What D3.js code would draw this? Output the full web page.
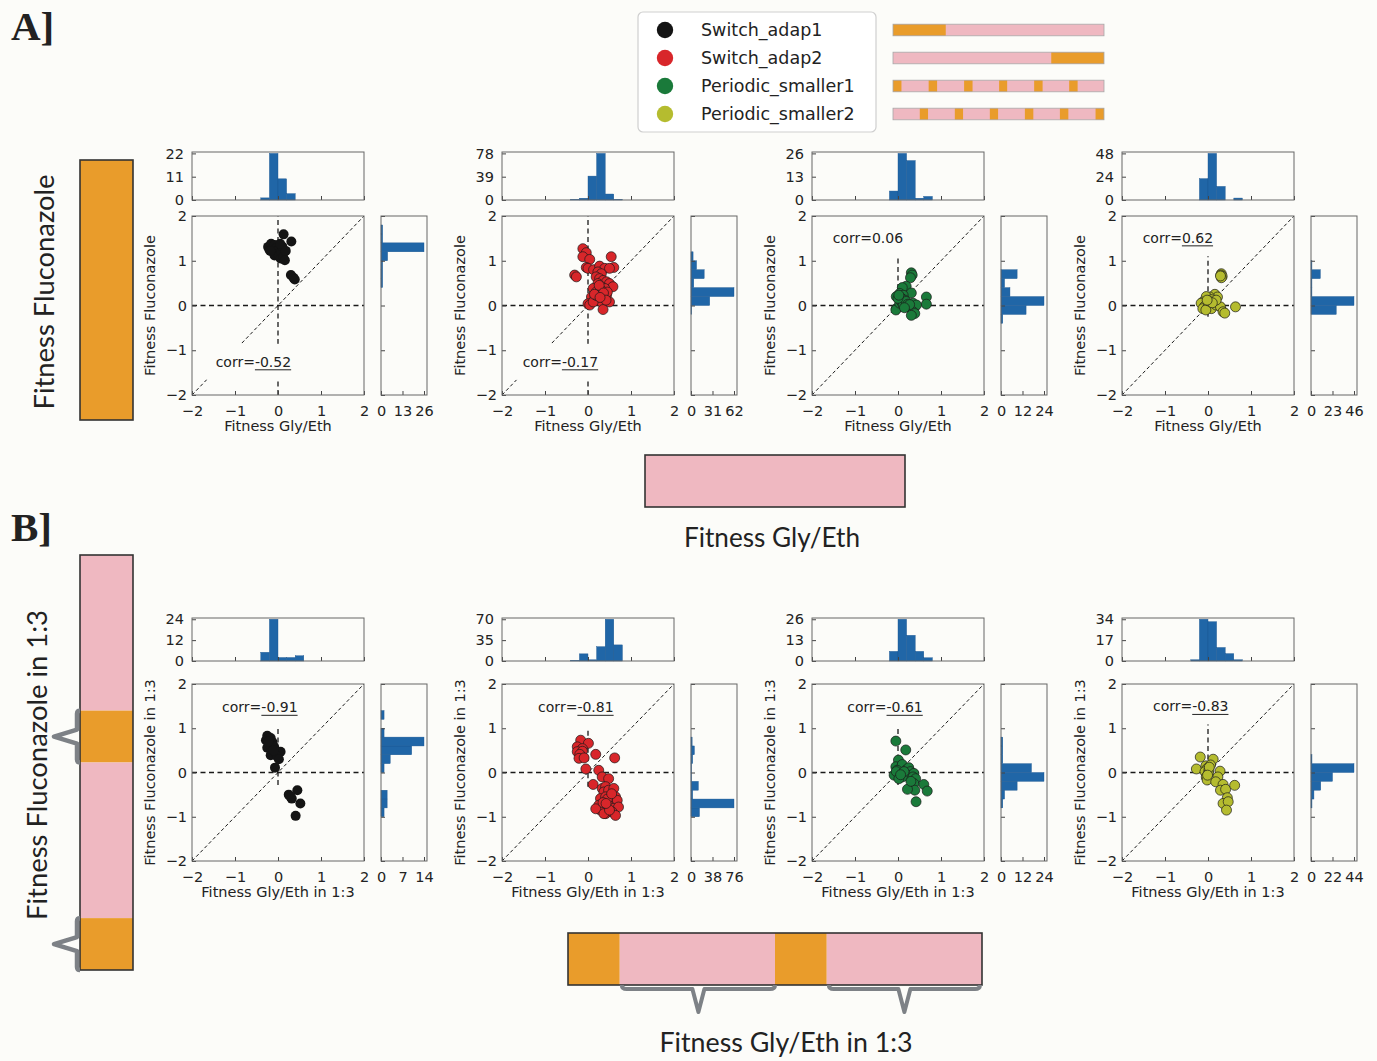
<!DOCTYPE html>
<html>
<head>
<meta charset="utf-8">
<script src="https://cdn.jsdelivr.net/npm/d3@7"></script>
<style>
body { margin: 0; background: #fcfcf9; }
svg text { font-family: "DejaVu Sans", sans-serif; fill: #222; }
</style>
</head>
<body>
<svg id="fig" width="1377" height="1061"></svg>
<script>
// ---- data ----
const groups = ["Switch_adap1", "Switch_adap2", "Periodic_smaller1", "Periodic_smaller2"];
const colors = ["#141414", "#d8262a", "#1a7a3a", "#b5bc2f"];

const corrA = ["-0.52", "-0.17", "0.06", "0.62"];
const corrB = ["-0.91", "-0.81", "-0.61", "-0.83"];
const underA = [true, true, false, true];
const underB = [true, true, true, true];

// scatter points [gly/eth fitness, fluconazole fitness]
const ptsA1 = [[-0.23,1.31],[-0.2,1.25],[-0.16,1.38],[-0.12,1.3],[-0.12,1.23],[-0.08,1.35],[-0.05,1.28],[-0.04,1.18],
  [-0.08,1.12],[0.0,1.22],[0.02,1.12],[0.04,1.28],[0.06,1.05],[0.08,1.2],[0.1,1.32],[0.12,1.08],[0.16,1.01],
  [0.18,1.22],[0.13,1.59],[0.31,1.43],[0.3,0.68],[0.36,0.62],[0.39,0.58],[-0.18,1.22],[0.05,1.38]];
const ptsA2 = [[-0.31,0.68],[-0.27,0.64],[-0.12,1.27],[-0.04,1.18],[-0.12,1.09],[0.04,1.03],[-0.04,0.85],[0,0.83],
  [0.13,0.8],[0.27,0.88],[0.39,0.83],[0.54,1.09],[0.6,0.85],[0.5,0.83],[0.23,0.75],[0.31,0.71],[0.19,0.64],
  [0.27,0.6],[0.35,0.56],[0.43,0.53],[0.5,0.49],[0.58,0.42],[0.23,0.49],[0.31,0.42],[0.39,0.38],[0.12,0.38],
  [0.19,0.3],[0.27,0.27],[0.35,0.19],[0.43,0.23],[0.08,0.19],[0.16,0.16],[0.23,0.12],[0.31,0.08],[0.39,0.16],
  [0,0.04],[0.04,0.01],[0.12,0.08],[0.5,0.08],[0.35,-0.09],[0.3,0.35],[0.45,0.3],[0.2,0.22],[0.26,0.45],
  [0.36,0.28],[0.15,0.25],[0.42,0.12],[0.28,0.18]];
const ptsA3 = [[0.31,0.73],[0.33,0.68],[0.29,0.62],[0.19,0.43],[0.1,0.4],[0.31,0.28],[0.04,0.27],[0.12,0.23],
  [-0.04,0.2],[0.08,0.16],[0.16,0.12],[0.66,0.19],[0.66,0.03],[0.35,0.05],[0.39,-0.03],[0.31,-0.07],[0.43,0.01],
  [-0.04,-0.07],[-0.05,-0.1],[0.19,-0.03],[0.35,-0.14],[0.39,-0.18],[0.31,-0.22],[0.04,0.05],[0.08,0.09],
  [0.12,0.01],[0.19,0.09],[0.23,0.03],[0,0.16],[0.02,0.23],[0.27,0.02],[0.15,-0.05]];
const ptsA4 = [[0.31,0.71],[0.3,0.68],[0.33,0.65],[0.31,0.62],[0.29,0.66],[0.16,0.25],[0.22,0.19],[0.04,0.19],
  [-0.04,0.2],[0.08,0.13],[-0.12,0.08],[-0.16,0.05],[-0.08,-0.02],[-0.12,-0.07],[0.04,0.05],[0.12,0.01],
  [0,-0.03],[0.08,-0.07],[0.19,0.01],[0.29,-0.03],[0.35,-0.14],[0.39,-0.17],[0.64,-0.03],[0.19,0.12],
  [-0.05,-0.1],[0.02,0.1],[0.1,0.06],[-0.02,0.12]];
const ptsB1 = [[-0.25,0.83],[-0.28,0.73],[-0.17,0.78],[-0.13,0.69],[-0.25,0.56],[-0.19,0.62],[-0.09,0.58],
  [-0.15,0.47],[-0.17,0.39],[-0.05,0.43],[0.06,0.47],[-0.02,0.36],[0.02,0.3],[-0.07,0.11],[0.45,-0.4],
  [0.25,-0.5],[0.32,-0.59],[0.52,-0.7],[0.41,-0.98],[0.29,-0.55],[-0.22,0.7],[-0.1,0.5]];
const ptsB2 = [[-0.17,0.73],[0.01,0.66],[-0.25,0.58],[-0.13,0.54],[-0.25,0.47],[-0.13,0.48],[-0.19,0.41],
  [-0.21,0.32],[-0.09,0.33],[0.18,0.41],[0.62,0.33],[-0.05,0.08],[0.25,0.05],[0.33,-0.1],[0.12,-0.27],
  [0.48,-0.14],[0.33,-0.36],[0.41,-0.32],[0.37,-0.44],[0.48,-0.4],[0.6,-0.36],[0.29,-0.59],[0.41,-0.55],
  [0.52,-0.63],[0.64,-0.55],[0.68,-0.63],[0.25,-0.74],[0.37,-0.78],[0.48,-0.74],[0.6,-0.81],[0.71,-0.78],
  [0.29,-0.85],[0.41,-0.93],[0.56,-0.89],[0.64,-0.97],[0.18,-0.82],[0.37,-0.93],[0.45,-0.6],[0.55,-0.48],
  [0.35,-0.68],[0.5,-0.85],[0.42,-0.7]];
const ptsB3 = [[-0.05,0.71],[0.18,0.51],[0.01,0.28],[-0.05,0.13],[0.06,0.09],[0.1,0.18],[-0.02,0.05],[0.02,-0.02],
  [-0.09,-0.06],[0.18,0.05],[0.25,0.11],[0.29,0.02],[0.22,-0.06],[0.1,-0.1],[0.37,-0.02],[0.35,-0.1],
  [0.41,-0.14],[0.37,-0.25],[0.6,-0.27],[0.39,-0.4],[0.22,-0.38],[0.68,-0.42],[0.42,-0.66],[-0.04,0.02],
  [0.02,-0.14],[0.14,0.02],[0.3,-0.2],[0.06,-0.05]];
const ptsB4 = [[-0.18,0.35],[0.12,0.3],[-0.27,0.08],[-0.05,0.15],[-0.02,0.09],[-0.07,0.02],[0.02,0.05],
  [0.01,-0.02],[-0.04,-0.1],[-0.02,-0.17],[0.06,0.17],[0.28,0.03],[0.23,-0.1],[0.18,-0.21],[0.35,-0.27],
  [0.29,-0.4],[0.41,-0.38],[0.62,-0.29],[0.45,-0.57],[0.35,-0.7],[0.47,-0.66],[0.43,-0.85],[0.03,0.12],[-0.01,-0.06]];

// histogram bins of width 0.2: [bin start, count]
const binWidth = 0.2;
const topA1 = [[-0.4,1],[-0.2,22],[0,10],[0.2,3]];
const topA2 = [[-0.4,1],[-0.2,3],[0,40],[0.2,78],[0.4,10],[0.6,1]];
const topA3 = [[-0.2,5],[0,26],[0.2,22],[0.4,1],[0.6,2]];
const topA4 = [[-0.2,22],[0,48],[0.2,14],[0.6,2]];
const topB1 = [[-0.4,5],[-0.2,24],[0,2],[0.2,2],[0.4,3]];
const topB2 = [[-0.4,1],[-0.2,12],[0,2],[0.2,24],[0.4,70],[0.6,27]];
const topB3 = [[-0.2,6],[0,26],[0.2,16],[0.4,6],[0.6,2]];
const topB4 = [[-0.4,1],[-0.2,34],[0,32],[0.2,11],[0.4,6],[0.6,1]];
const sideA1 = [[0.4,1],[0.6,1],[0.8,1],[1.0,4],[1.2,26],[1.4,1],[1.6,1]];
const sideA2 = [[-0.2,1],[0,27],[0.2,62],[0.4,4],[0.6,19],[0.8,8],[1.0,3]];
const sideA3 = [[-0.4,1],[-0.2,14],[0,24],[0.2,5],[0.4,2],[0.6,9]];
const sideA4 = [[-0.2,27],[0,46],[0.2,1],[0.4,1],[0.6,10],[0.8,1]];
const sideB1 = [[-1.0,1],[-0.8,2],[-0.6,2],[0,1],[0.2,3],[0.4,10],[0.6,14],[0.8,1],[1.2,1]];
const sideB2 = [[-1.0,15],[-0.8,76],[-0.6,3],[-0.4,13],[-0.2,1],[0,1],[0.2,3],[0.4,6],[0.6,2]];
const sideB3 = [[-0.8,1],[-0.6,2],[-0.4,9],[-0.2,24],[0,17],[0.2,1],[0.4,1],[0.6,1]];
const sideB4 = [[-0.8,1],[-0.6,3],[-0.4,10],[-0.2,22],[0,44],[0.2,1]];

// histogram axis maxima (tick labels are 0, max/2, max)
const topMaxA = [22, 78, 26, 48];
const sideMaxA = [26, 62, 24, 46];
const topMaxB = [24, 70, 26, 34];
const sideMaxB = [14, 76, 24, 44];

// extent of the dashed x=0 line
const vSpanA = [[-2, 2], [-2, 2], [-0.2, 1.1], [-0.25, 1.1]];
const vSpanB = [[-0.28, 1.0], [-0.32, 1.0], [-0.28, 1.0], [-0.28, 1.1]];

const ticks = [-2, -1, 0, 1, 2];

// ---- layout ----
const bg = "#fcfcf9";
const orange = "#e99c2b", pink = "#efb8c1", braceGray = "#7d8186";
const histBlue = "#2066a7";
const FS = 14.5;
const colLeft = [192, 502, 812, 1122];
const SW = 172, RGAP = 189, RW = 46;
const rows = [
  {histTop: 152, histH: 48, top: 216, h: 179, suffix: ""},
  {histTop: 618, histH: 43, top: 684, h: 177, suffix: " in 1:3"}
];
const corrAtA = [[-1.45, -1.37], [-1.52, -1.37], [-1.52, 1.4], [-1.52, 1.4]];
const corrAtB = [[-1.3, 1.36], [-1.16, 1.36], [-1.18, 1.36], [-1.28, 1.38]];

const svg = d3.select("#fig");
svg.append("rect").attr("width", 1377).attr("height", 1061).attr("fill", bg);

function styleAxis(sel, labels) {
  sel.select(".domain").remove();
  sel.selectAll(".tick line").attr("stroke", "#444").attr("stroke-width", 1);
  sel.selectAll(".tick text").attr("font-size", FS).attr("fill", "#222")
    .style("font-family", "'DejaVu Sans', sans-serif");
  if (!labels) sel.selectAll(".tick text").remove();
}

function drawPanel(p) {
  const g = svg.append("g");
  const x = d3.scaleLinear().domain([-2, 2]).range([p.left, p.left + SW]);
  const y = d3.scaleLinear().domain([-2, 2]).range([p.top + p.h, p.top]);

  // ---- top histogram ----
  const yt = d3.scaleLinear().domain([0, p.topMax * 1.03]).range([p.histTop + p.histH, p.histTop]);
  g.append("g").selectAll("rect").data(p.topBins).join("rect")
    .attr("x", d => x(d[0])).attr("width", d => x(d[0] + binWidth) - x(d[0]))
    .attr("y", d => yt(d[1])).attr("height", d => yt(0) - yt(d[1]))
    .attr("fill", histBlue).attr("stroke", "#1a5590").attr("stroke-width", 0.4);
  g.append("g").attr("transform", `translate(0,${p.histTop + p.histH})`)
    .call(d3.axisBottom(x).tickValues(ticks).tickSize(-4)).call(s => styleAxis(s, false));
  g.append("g").attr("transform", `translate(${p.left},0)`)
    .call(d3.axisLeft(yt).tickValues([0, p.topMax / 2, p.topMax]).tickSize(-4).tickPadding(8).tickFormat(d3.format("d")))
    .call(s => styleAxis(s, true));
  g.append("rect").attr("x", p.left).attr("y", p.histTop).attr("width", SW).attr("height", p.histH)
    .attr("fill", "none").attr("stroke", "#666").attr("stroke-width", 1);

  // ---- side histogram ----
  const rx = p.left + RGAP;
  const xs = d3.scaleLinear().domain([0, p.sideMax * 1.07]).range([rx, rx + RW]);
  g.append("g").selectAll("rect").data(p.sideBins).join("rect")
    .attr("x", rx).attr("width", d => xs(d[1]) - rx)
    .attr("y", d => y(d[0] + binWidth)).attr("height", d => y(d[0]) - y(d[0] + binWidth))
    .attr("fill", histBlue).attr("stroke", "#1a5590").attr("stroke-width", 0.4);
  g.append("g").attr("transform", `translate(0,${p.top + p.h})`)
    .call(d3.axisBottom(xs).tickValues([0, p.sideMax / 2, p.sideMax]).tickSize(-4).tickPadding(11).tickFormat(d3.format("d")))
    .call(s => styleAxis(s, true));
  g.append("g").attr("transform", `translate(${rx},0)`)
    .call(d3.axisLeft(y).tickValues(ticks).tickSize(-4)).call(s => styleAxis(s, false));
  g.append("rect").attr("x", rx).attr("y", p.top).attr("width", RW).attr("height", p.h)
    .attr("fill", "none").attr("stroke", "#666").attr("stroke-width", 1);

  // ---- scatter ----
  g.append("line").attr("x1", x(-2)).attr("x2", x(2)).attr("y1", y(0)).attr("y2", y(0))
    .attr("stroke", "#1a1a1a").attr("stroke-width", 1.3).attr("stroke-dasharray", "5,3.5");
  g.append("line").attr("x1", x(0)).attr("x2", x(0)).attr("y1", y(p.vSpan[0])).attr("y2", y(p.vSpan[1]))
    .attr("stroke", "#1a1a1a").attr("stroke-width", 1.3).attr("stroke-dasharray", "5,3.5");
  g.append("line").attr("x1", x(-2)).attr("x2", x(2)).attr("y1", y(-2)).attr("y2", y(2))
    .attr("stroke", "#1a1a1a").attr("stroke-width", 1).attr("stroke-dasharray", "3.5,2.5");

  g.append("g").selectAll("circle").data(p.pts).join("circle")
    .attr("cx", d => x(d[0])).attr("cy", d => y(d[1])).attr("r", 5)
    .attr("fill", p.color)
    .attr("stroke", p.edge ? "#1a1a1a" : "none").attr("stroke-width", 0.7);

  // corr label with background box
  const cx = x(p.corrAt[0]), cy = y(p.corrAt[1]);
  const cg = g.append("g");
  const t1 = cg.append("text").attr("x", cx).attr("y", cy).attr("font-size", 14).text("corr=");
  const w1 = t1.node().getComputedTextLength();
  const t2 = cg.append("text").attr("x", cx + w1).attr("y", cy).attr("font-size", 14).text(p.corr);
  const w2 = t2.node().getComputedTextLength();
  if (p.under) {
    cg.append("line").attr("x1", cx + w1).attr("x2", cx + w1 + w2).attr("y1", cy + 3).attr("y2", cy + 3)
      .attr("stroke", "#222").attr("stroke-width", 1);
  }
  const bb = cg.node().getBBox();
  cg.insert("rect", ":first-child").attr("x", bb.x - 9).attr("y", bb.y - 10)
    .attr("width", bb.width + 18).attr("height", bb.height + 20).attr("fill", bg);

  g.append("g").attr("transform", `translate(0,${p.top + p.h})`)
    .call(d3.axisBottom(x).tickValues(ticks).tickSize(-4).tickPadding(11).tickFormat(d3.format("d")))
    .call(s => styleAxis(s, true));
  g.append("g").attr("transform", `translate(${p.left},0)`)
    .call(d3.axisLeft(y).tickValues(ticks).tickSize(-4).tickPadding(5).tickFormat(d3.format("d")))
    .call(s => styleAxis(s, true));
  g.append("rect").attr("x", p.left).attr("y", p.top).attr("width", SW).attr("height", p.h)
    .attr("fill", "none").attr("stroke", "#666").attr("stroke-width", 1);

  g.append("text").attr("x", p.left + SW / 2).attr("y", p.top + p.h + 36)
    .attr("text-anchor", "middle").attr("font-size", FS).text("Fitness Gly/Eth" + p.suffix);
  g.append("text").attr("transform", `translate(${p.left - 37},${p.top + p.h / 2}) rotate(-90)`)
    .attr("text-anchor", "middle").attr("font-size", FS).text("Fitness Fluconazole" + p.suffix);
}

const ptsA = [ptsA1, ptsA2, ptsA3, ptsA4], ptsB = [ptsB1, ptsB2, ptsB3, ptsB4];
const topA = [topA1, topA2, topA3, topA4], topB = [topB1, topB2, topB3, topB4];
const sideA = [sideA1, sideA2, sideA3, sideA4], sideB = [sideB1, sideB2, sideB3, sideB4];

for (let i = 0; i < 4; i++) {
  drawPanel(Object.assign({}, rows[0], {left: colLeft[i], pts: ptsA[i], color: colors[i], edge: i > 0,
    topBins: topA[i], sideBins: sideA[i], topMax: topMaxA[i], sideMax: sideMaxA[i],
    vSpan: vSpanA[i], corr: corrA[i], under: underA[i], corrAt: corrAtA[i]}));
  drawPanel(Object.assign({}, rows[1], {left: colLeft[i], pts: ptsB[i], color: colors[i], edge: i > 0,
    topBins: topB[i], sideBins: sideB[i], topMax: topMaxB[i], sideMax: sideMaxB[i],
    vSpan: vSpanB[i], corr: corrB[i], under: underB[i], corrAt: corrAtB[i]}));
}

// ---- legend ----
const leg = svg.append("g");
leg.append("rect").attr("x", 638).attr("y", 12).attr("width", 238).attr("height", 120).attr("rx", 5)
  .attr("fill", "#fff").attr("stroke", "#cfcfcf").attr("stroke-width", 1.2);
const legY = [30, 58, 86, 114];
groups.forEach((name, i) => {
  leg.append("circle").attr("cx", 665).attr("cy", legY[i]).attr("r", 8.2).attr("fill", colors[i]);
  leg.append("text").attr("x", 701).attr("y", legY[i]).attr("dy", "0.36em").attr("font-size", 17.5).text(name);
});

// schedule bars: orange stretches as fractions of the bar
const schedOrange = [
  [[0, 0.25]],
  [[0.75, 1]],
  [[0, 0.04], [0.169, 0.209], [0.337, 0.377], [0.503, 0.541], [0.669, 0.709], [0.835, 0.875]],
  [[0.127, 0.166], [0.293, 0.332], [0.459, 0.498], [0.625, 0.665], [0.791, 0.831], [0.96, 1]]
];
const sx = d3.scaleLinear().domain([0, 1]).range([893, 1104]);
schedOrange.forEach((segs, i) => {
  const gy = legY[i] - 5.8;
  leg.append("rect").attr("x", sx(0)).attr("y", gy).attr("width", sx(1) - sx(0)).attr("height", 11.6).attr("fill", pink);
  leg.selectAll(null).data(segs).join("rect")
    .attr("x", d => sx(d[0])).attr("width", d => sx(d[1]) - sx(d[0]))
    .attr("y", gy).attr("height", 11.6).attr("fill", orange);
  leg.append("rect").attr("x", sx(0)).attr("y", gy).attr("width", sx(1) - sx(0)).attr("height", 11.6)
    .attr("fill", "none").attr("stroke", "#a8a8a8").attr("stroke-width", 0.8);
});

// ---- big schematic bars ----
function bigBar(x0, y0, w, h, segs, vertical) {
  const g = svg.append("g");
  const s = d3.scaleLinear().domain([0, 1]).range(vertical ? [y0, y0 + h] : [x0, x0 + w]);
  g.selectAll("rect").data(segs).join("rect")
    .attr("x", d => vertical ? x0 : s(d[0])).attr("y", d => vertical ? s(d[0]) : y0)
    .attr("width", d => vertical ? w : s(d[1]) - s(d[0]))
    .attr("height", d => vertical ? s(d[1]) - s(d[0]) : h)
    .attr("fill", d => d[2] === "o" ? orange : pink);
  g.append("rect").attr("x", x0).attr("y", y0).attr("width", w).attr("height", h)
    .attr("fill", "none").attr("stroke", "#333").attr("stroke-width", 1.6);
  return s;
}
bigBar(80, 160, 53, 260, [[0, 1, "o"]], true);
bigBar(645, 455, 260, 52, [[0, 1, "p"]], false);
const sl = bigBar(80, 555, 53, 415, [[0, 0.375, "p"], [0.375, 0.5, "o"], [0.5, 0.875, "p"], [0.875, 1, "o"]], true);
const sb = bigBar(568, 933, 414, 52, [[0, 0.125, "o"], [0.125, 0.5, "p"], [0.5, 0.625, "o"], [0.625, 1, "p"]], false);

// braces
[[0.375, 0.5], [0.875, 1]].forEach(d => {
  const y0 = sl(d[0]), y1 = sl(d[1]), ym = (y0 + y1) / 2, xv = 77;
  svg.append("path")
    .attr("d", `M80,${y0} Q${xv},${y0} ${xv},${y0 + 3} L${xv},${ym - 7} L54,${ym} L${xv},${ym + 7} L${xv},${y1 - 3} Q${xv},${y1} 80,${y1}`)
    .attr("fill", "none").attr("stroke", braceGray).attr("stroke-width", 4.5).attr("stroke-linejoin", "round");
});
[[0.13, 0.5], [0.63, 0.995]].forEach(d => {
  const x0 = sb(d[0]), x1 = sb(d[1]), xm = (x0 + x1) / 2, yh = 989;
  svg.append("path")
    .attr("d", `M${x0},985 Q${x0},${yh} ${x0 + 5},${yh} L${xm - 6},${yh} L${xm},1012 L${xm + 6},${yh} L${x1 - 5},${yh} Q${x1},${yh} ${x1},985`)
    .attr("fill", "none").attr("stroke", braceGray).attr("stroke-width", 4).attr("stroke-linejoin", "round");
});

// ---- big labels ----
function bigLabel(x, y, rot, txt, len) {
  svg.append("text").attr("transform", `translate(${x},${y}) rotate(${rot})`)
    .attr("text-anchor", "middle").attr("font-size", 27)
    .attr("textLength", len).attr("lengthAdjust", "spacingAndGlyphs")
    .style("font-family", "Lato, 'Open Sans', sans-serif").text(txt);
}
bigLabel(54, 292, -90, "Fitness Fluconazole", 235);
bigLabel(772, 547, 0, "Fitness Gly/Eth", 176);
bigLabel(47, 765, -90, "Fitness Fluconazole in 1:3", 310);
bigLabel(786, 1052, 0, "Fitness Gly/Eth in 1:3", 253);

svg.append("text").attr("x", 11).attr("y", 40).attr("font-size", 41).attr("font-weight", "bold")
  .style("font-family", "'Liberation Serif', serif").text("A]");
svg.append("text").attr("x", 11).attr("y", 541).attr("font-size", 41).attr("font-weight", "bold")
  .style("font-family", "'Liberation Serif', serif").text("B]");
</script>
</body>
</html>
